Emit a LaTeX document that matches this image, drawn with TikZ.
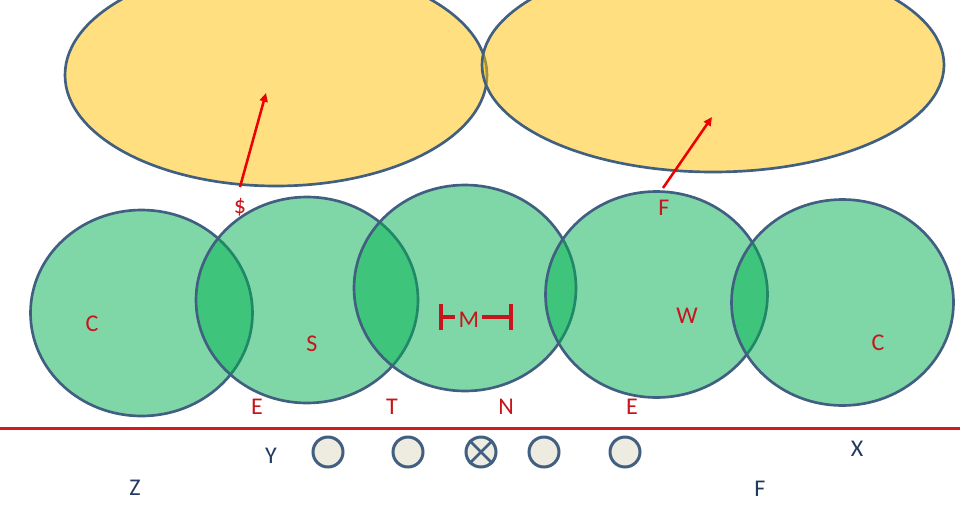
\documentclass[tikz,border=0pt]{standalone}
\usepackage{fontspec}
\setmainfont{Carlito}
\usetikzlibrary{arrows.meta, positioning}
\definecolor{outl}{RGB}{65,95,128}
\definecolor{gold}{RGB}{255,192,0}
\definecolor{ball}{RGB}{0,176,80}
\definecolor{lblred}{RGB}{200,20,28}
\definecolor{linered}{RGB}{212,26,26}
\definecolor{arrred}{RGB}{236,0,0}
\definecolor{lblblue}{RGB}{34,58,96}
\definecolor{tokenfill}{RGB}{238,236,225}
\tikzset{>={Triangle[length=6.5pt,width=6pt]}}

\begin{document}
\begin{tikzpicture}[x=0.75pt, y=-0.75pt, line width=2pt,
  every node/.style={font=\fontsize{18}{21}\selectfont, inner sep=1pt},
  yel/.style={draw=outl, fill=gold, fill opacity=.5},
  grn/.style={draw=outl, fill=ball, fill opacity=.5},
  pointer/.style={->, draw=arrred, line width=1.9pt},
  redlbl/.style={text=lblred},
  bluelbl/.style={text=lblblue},
  token/.style={circle, draw=outl, fill=tokenfill, line width=2.25pt, minimum size=22.5pt, inner sep=0pt},
  mbar/.style={draw=lblred, line width=3pt},
  baseline/.style={draw=linered, line width=2.25pt}]
\useasboundingbox (0,0) rectangle (960,504);
\clip (0,0) rectangle (960,504);

% sets
\draw[yel] (276,75) ellipse [x radius=211, y radius=111];
\draw[yel] (713,65) ellipse [x radius=231, y radius=107];

\coordinate (tail1) at (240,187); \coordinate (head1) at (266,93);
\coordinate (tail2) at (663,188); \coordinate (head2) at (712,117);
\draw[pointer] (tail1) -- (head1);
\draw[pointer] (tail2) -- (head2);

\foreach \cx/\cy in {141.5/313, 307/300, 465/288, 656.5/294.5, 842.5/302.5}
  \draw[grn] (\cx,\cy) ellipse [x radius=111, y radius=103];

\node[redlbl] (dollar) at (240,207) {\$};
\node[redlbl] (fTop) at (664,208) {F};
\node[redlbl] (cLeft) at (92,324) {C};
\node[redlbl] (sMid) at (312,344) {S};
\node[redlbl] (mMid) at (469,320) {M};
\node[redlbl] (wMid) at (687,316) {W};
\node[redlbl] (cRight) at (878,343) {C};
\node[redlbl] (e1) at (257,407) {E};
\node[redlbl] (t1) at (392,407) {T};
\node[redlbl] (n1) at (506,407) {N};
\node[redlbl] (e2) at (632,407) {E};

\coordinate (mL) at (439,317); \coordinate (mLin) at (455,317);
\coordinate (mR) at (513,317); \coordinate (mRin) at (482,317);
\draw[mbar, {Bar[width=19.5pt]}-] (mL) -- (mLin);
\draw[mbar, -{Bar[width=19.5pt]}] (mRin) -- (mR);

\coordinate (lineL) at (0,428); \coordinate (lineR) at (960,428);
\draw[baseline] (lineL) -- (lineR);

\foreach \x [count=\i] in {328,408,481,544,625}
  \node[token] (k\i) at (\x,452) {};
\draw[outl, line width=2pt] (k3.north west) -- (k3.south east) (k3.north east) -- (k3.south west);

\node[bluelbl] (yL) at (271,456) {Y};
\node[bluelbl] (xR) at (857,449) {X};
\node[bluelbl] (zL) at (135,488) {Z};
\node[bluelbl] (fB) at (760,489) {F};
\end{tikzpicture}
\end{document}
